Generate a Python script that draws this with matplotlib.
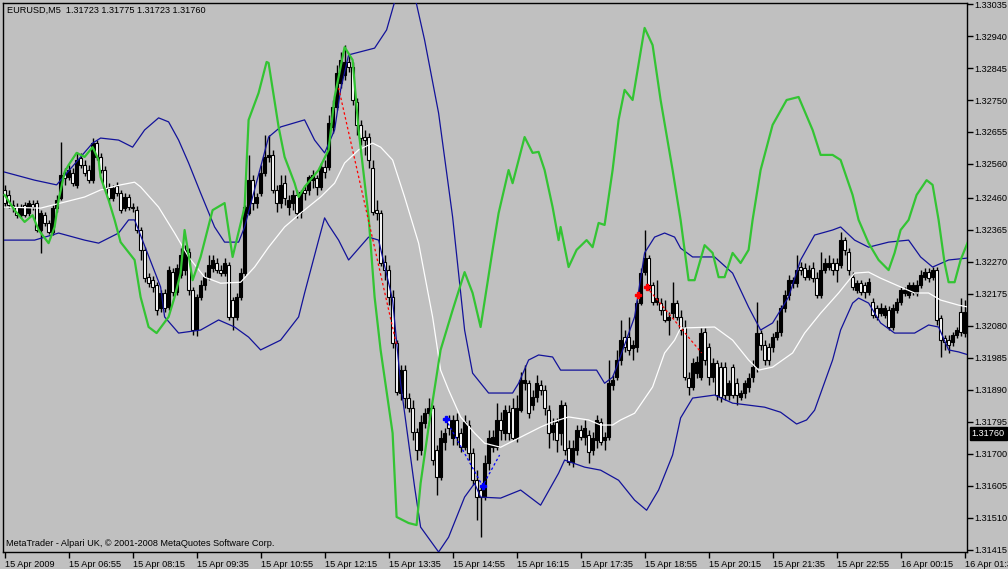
import numpy as np
import matplotlib
matplotlib.use("Agg")
import matplotlib.pyplot as plt

plt.rcParams['font.family'] = ['Liberation Sans', 'DejaVu Sans']

# EURUSD M5 candles, prices in points (1e-5)
opens = [132483, 132468, 132438, 132432, 132408, 132438, 132414, 132441, 132444, 132364,
         132408, 132385, 132358, 132429, 132459, 132533, 132521, 132533, 132498, 132578,
         132557, 132542, 132512, 132622, 132581, 132542, 132489, 132459, 132495, 132474,
         132429, 132462, 132432, 132423, 132364, 132305, 132224, 132215, 132201, 132132,
         132177, 132135, 132239, 132180, 132230, 132245, 132299, 132186, 132067, 132165,
         132201, 132224, 132251, 132266, 132245, 132236, 132260, 132156, 132106, 132165,
         132236, 132414, 132512, 132444, 132474, 132533, 132581, 132587, 132483, 132444,
         132503, 132432, 132444, 132468, 132417, 132483, 132483, 132512, 132518, 132492,
         132551, 132551, 132670, 132729, 132800, 132824, 132863, 132848, 132744, 132676,
         132640, 132640, 132548, 132423, 132414, 132269, 132245, 132165, 132028, 131880,
         131948, 131865, 131835, 131764, 131711, 131791, 131820, 131835, 131711, 131630,
         131734, 131800, 131746, 131800, 131761, 131719, 131785, 131702, 131621, 131592,
         131571, 131672, 131719, 131719, 131800, 131761, 131823, 131835, 131746, 131829,
         131909, 131909, 131844, 131868, 131904, 131889, 131829, 131764, 131794, 131761,
         131844, 131716, 131675, 131711, 131770, 131749, 131755, 131711, 131740, 131794,
         131740, 131749, 131904, 131927, 131978, 132046, 132046, 132013, 132016, 132147,
         132239, 132281, 132201, 132150, 132147, 132126, 132097, 132117, 132147, 132106,
         132076, 131924, 131898, 131939, 131927, 132061, 132016, 131927, 131969, 131957,
         131957, 131874, 131957, 131909, 131868, 131880, 131898, 131927, 131957, 132058,
         132022, 132016, 132016, 132046, 132061, 132132, 132171, 132206, 132206, 132254,
         132251, 132224, 132251, 132221, 132171, 132245, 132254, 132266, 132266, 132260,
         132334, 132299, 132224, 132186, 132206, 132201, 132180, 132150, 132132, 132117,
         132111, 132126, 132076, 132126, 132150, 132177, 132171, 132180, 132177, 132201,
         132224, 132239, 132224, 132245, 132103, 132043, 132037, 132031, 132052, 132120,
         132058]
highs = [132498, 132483, 132453, 132444, 132441, 132447, 132453, 132453, 132453, 132423,
         132417, 132394, 132438, 132468, 132625, 132548, 132557, 132548, 132596, 132593,
         132572, 132557, 132637, 132631, 132593, 132554, 132503, 132498, 132506, 132483,
         132474, 132471, 132444, 132435, 132373, 132313, 132236, 132227, 132209, 132186,
         132189, 132257, 132251, 132263, 132310, 132319, 132310, 132195, 132174, 132215,
         132239, 132290, 132290, 132281, 132260, 132281, 132269, 132165, 132177, 132251,
         132438, 132587, 132527, 132474, 132557, 132646, 132646, 132602, 132498, 132527,
         132527, 132468, 132483, 132483, 132483, 132498, 132527, 132542, 132527, 132563,
         132572, 132705, 132750, 132854, 132893, 132913, 132884, 132863, 132756, 132691,
         132661, 132652, 132572, 132453, 132423, 132290, 132260, 132186, 132037, 131963,
         131963, 131880, 131859, 131776, 131814, 131835, 131865, 131844, 131725, 131770,
         131776, 131814, 131814, 131820, 131776, 131814, 131800, 131716, 131651, 131607,
         131696, 131770, 131770, 131850, 131823, 131844, 131844, 131865, 131874, 131942,
         131963, 131918, 131889, 131933, 131918, 131904, 131844, 131806, 131806, 131859,
         131853, 131740, 131740, 131785, 131785, 131800, 131770, 131764, 131814, 131806,
         131764, 131978, 131933, 132008, 132097, 132067, 132106, 132037, 132156, 132251,
         132364, 132290, 132209, 132215, 132162, 132156, 132120, 132209, 132156, 132126,
         132097, 131942, 131984, 131990, 132073, 132073, 132028, 131984, 131978, 131972,
         131972, 131918, 131966, 131924, 131889, 131918, 131939, 131978, 132150, 132067,
         132037, 132028, 132058, 132097, 132141, 132186, 132230, 132224, 132290, 132269,
         132266, 132260, 132269, 132239, 132299, 132281, 132290, 132281, 132281, 132358,
         132343, 132310, 132239, 132215, 132215, 132209, 132221, 132162, 132141, 132147,
         132141, 132138, 132144, 132162, 132195, 132195, 132209, 132209, 132215, 132245,
         132251, 132251, 132254, 132254, 132111, 132052, 132052, 132061, 132076, 132162,
         132156]
lows = [132432, 132429, 132417, 132400, 132400, 132403, 132405, 132423, 132358, 132296,
        132376, 132352, 132349, 132417, 132453, 132498, 132512, 132495, 132489, 132548,
        132524, 132503, 132503, 132572, 132533, 132483, 132450, 132450, 132465, 132414,
        132420, 132423, 132417, 132355, 132275, 132209, 132195, 132180, 132111, 132120,
        132120, 132126, 132168, 132171, 132221, 132230, 132171, 132052, 132049, 132156,
        132186, 132215, 132239, 132236, 132227, 132227, 132097, 132067, 132097, 132156,
        132227, 132408, 132423, 132429, 132465, 132524, 132566, 132474, 132417, 132429,
        132438, 132408, 132423, 132400, 132400, 132453, 132468, 132489, 132468, 132483,
        132518, 132542, 132652, 132720, 132786, 132809, 132833, 132735, 132646, 132616,
        132587, 132548, 132408, 132394, 132257, 132215, 132141, 132013, 131874, 131859,
        131835, 131823, 131740, 131681, 131696, 131776, 131806, 131666, 131577, 131621,
        131711, 131755, 131725, 131725, 131705, 131711, 131681, 131607, 131503, 131452,
        131562, 131651, 131705, 131711, 131740, 131740, 131740, 131740, 131734, 131823,
        131889, 131806, 131829, 131853, 131874, 131814, 131716, 131740, 131705, 131725,
        131696, 131666, 131660, 131696, 131740, 131725, 131672, 131696, 131716, 131725,
        131711, 131740, 131889, 131918, 131963, 132002, 131993, 131978, 132002, 132141,
        132230, 132186, 132141, 132141, 132111, 132091, 132052, 132103, 132097, 132052,
        131918, 131874, 131889, 131924, 131918, 131963, 131904, 131912, 131859, 131853,
        131859, 131859, 131865, 131844, 131859, 131865, 131883, 131912, 131942, 132008,
        131963, 131963, 132002, 132037, 132049, 132120, 132156, 132192, 132195, 132230,
        132215, 132215, 132209, 132162, 132162, 132236, 132245, 132230, 132209, 132251,
        132290, 132230, 132186, 132177, 132171, 132162, 132171, 132103, 132097, 132108,
        132103, 132067, 132067, 132117, 132141, 132168, 132162, 132171, 132168, 132192,
        132215, 132209, 132215, 132082, 131987, 132008, 131999, 132019, 132043, 132049,
        132046]
closes = [132444, 132438, 132432, 132408, 132432, 132408, 132444, 132432, 132364, 132414,
          132385, 132358, 132429, 132453, 132527, 132518, 132542, 132503, 132572, 132557,
          132533, 132512, 132622, 132581, 132542, 132489, 132459, 132489, 132474, 132423,
          132462, 132432, 132429, 132364, 132305, 132221, 132206, 132195, 132126, 132177,
          132132, 132245, 132180, 132251, 132290, 132305, 132186, 132067, 132165, 132201,
          132224, 132260, 132275, 132245, 132236, 132266, 132106, 132106, 132165, 132236,
          132432, 132512, 132444, 132462, 132533, 132581, 132587, 132483, 132444, 132498,
          132459, 132453, 132468, 132414, 132477, 132474, 132521, 132527, 132492, 132551,
          132536, 132682, 132729, 132830, 132869, 132863, 132848, 132750, 132676, 132637,
          132631, 132572, 132417, 132414, 132266, 132245, 132165, 132028, 131883, 131948,
          131865, 131835, 131764, 131711, 131794, 131820, 131835, 131681, 131630, 131746,
          131761, 131776, 131800, 131749, 131719, 131794, 131702, 131621, 131571, 131571,
          131672, 131746, 131749, 131800, 131770, 131829, 131761, 131746, 131835, 131918,
          131918, 131820, 131868, 131909, 131889, 131835, 131761, 131785, 131740, 131844,
          131711, 131675, 131716, 131770, 131749, 131776, 131705, 131746, 131800, 131734,
          131749, 131909, 131918, 131978, 132037, 132016, 132008, 132022, 132147, 132236,
          132281, 132201, 132150, 132162, 132126, 132097, 132106, 132147, 132106, 132067,
          131927, 131898, 131969, 131972, 132058, 131978, 131927, 131969, 131874, 131868,
          131874, 131909, 131874, 131874, 131880, 131909, 131924, 131957, 132058, 132022,
          131978, 131978, 132046, 132061, 132132, 132171, 132215, 132215, 132245, 132245,
          132224, 132245, 132221, 132171, 132245, 132266, 132266, 132245, 132245, 132334,
          132305, 132245, 132195, 132206, 132180, 132180, 132209, 132111, 132106, 132132,
          132132, 132076, 132132, 132150, 132186, 132186, 132201, 132201, 132201, 132230,
          132239, 132221, 132245, 132097, 132037, 132031, 132022, 132052, 132067, 132061,
          132120]

# Bollinger bands (bar index, price points)
upper_idx = [0, 7.5, 13, 22, 24, 28.5, 32, 35, 38.5, 41, 43.5, 46, 49, 52.5, 55, 58.5, 60, 66, 69, 75,
             77.5, 80, 82.5, 84, 86, 92.5, 95.5, 100.5, 105, 108.5, 112, 115, 117, 121, 127, 128.5,
             131, 133.5, 137, 139, 145, 148, 150, 152, 153, 157.5, 160, 162.5, 165, 167.5, 169,
             172, 177.5, 182, 186, 189, 192, 196, 199, 202.5, 207, 209, 212.5, 216, 221, 226, 229,
             232, 236, 241]
upper_val = [132536, 132512, 132498, 132622, 132637, 132631, 132610, 132661, 132697, 132685, 132631,
             132563, 132474, 132373, 132328, 132328, 132373, 132640, 132670, 132691, 132631, 132593,
             132661, 132780, 132884, 132904, 132958, 133166, 132928, 132711, 132403, 132067, 131939,
             131880, 131880, 131909, 131978, 131993, 131987, 131948, 131948, 131948, 131909, 131927,
             131957, 132106, 132296, 132343, 132355, 132343, 132310, 132284, 132284, 132236, 132135,
             132067, 132088, 132165, 132275, 132349, 132364, 132373, 132334, 132313, 132328, 132334,
             132284, 132254, 132275, 132281]
lower_idx = [0, 7.5, 13.5, 20, 23.5, 28.5, 31, 32.5, 39, 40, 43.5, 49, 53.5, 57.5, 61, 64, 69, 73.5,
             75, 78.5, 80, 81, 83.5, 86, 91, 93.5, 97, 99, 102.5, 104, 108.5, 111, 115, 117.5, 119,
             124, 129, 134, 138.5, 140, 145, 149, 153.5, 157.5, 160.5, 163.5, 167, 169, 172, 177.5,
             182, 190, 194, 198, 200.5, 202.5, 207, 209, 212, 213.5, 216, 219, 222.5, 227.5, 231,
             233.5, 236, 238.5, 241]
lower_val = [132334, 132334, 132355, 132334, 132325, 132355, 132394, 132394, 132195, 132106, 132058,
             132067, 132097, 132076, 132046, 132008, 132037, 132106, 132177, 132334, 132400, 132379,
             132334, 132275, 132343, 132334, 132156, 131909, 131601, 131482, 131408, 131452, 131571,
             131612, 131571, 131568, 131592, 131547, 131642, 131681, 131660, 131651, 131621, 131562,
             131532, 131592, 131696, 131806, 131865, 131874, 131850, 131838, 131823, 131788, 131800,
             131829, 131978, 132067, 132147, 132162, 132147, 132088, 132058, 132058, 132082, 132076,
             132008, 132002, 131993]
mid_idx = [0, 9, 14, 20, 24, 29, 32.5, 34, 38.5, 42.5, 46, 50, 54, 59, 62.5, 66, 70, 74, 79, 82.5,
           85, 88.5, 92, 94, 97, 100, 103.5, 107, 109, 111, 114, 117.5, 120, 124, 129, 134, 137,
           141, 146, 149, 152, 154, 157.5, 162, 165, 167.5, 169, 177.5, 182, 186, 188.5, 192, 197,
           200, 204, 208.5, 212.5, 216, 219, 224, 227.5, 231, 234, 238.5, 241]
mid_val = [132432, 132429, 132444, 132462, 132483, 132498, 132506, 132492, 132432, 132355, 132284,
           132224, 132206, 132209, 132254, 132313, 132373, 132414, 132462, 132503, 132563, 132602,
           132622, 132610, 132572, 132462, 132325, 132106, 131948, 131889, 131809, 131761, 131731,
           131719, 131749, 131779, 131794, 131809, 131800, 131785, 131785, 131800, 131820, 131898,
           131999, 132037, 132073, 132076, 132037, 131978, 131948, 131957, 131999, 132058, 132117,
           132177, 132236, 132239, 132221, 132195, 132177, 132177, 132156, 132141, 132135]

# green indicator line
green_idx = [0, 2.5, 5, 7, 8.5, 11, 12.5, 13.5, 15, 16, 18, 20, 22, 23.5, 24, 26, 27.5, 29, 32.5,
             34, 36, 38, 41, 42.5, 44, 45, 47, 49, 52, 55, 57, 60, 61, 63.5, 65.5, 66, 68.5, 70,
             72.5, 73.5, 75, 78.5, 81, 82.5, 84, 85, 87, 88.5, 91, 92.5, 94, 97, 98, 101, 103,
             104, 106, 109, 112, 115, 117, 119, 122, 123.5, 126, 127, 130, 132, 133.5, 135, 137,
             138.5, 139, 141, 143, 145.5, 147, 148.5, 150, 152, 153.5, 155, 157, 160, 162, 164,
             167, 169, 171, 172.5, 175, 177, 178.5, 180, 182, 184, 186, 187, 189, 192, 195.5,
             198.5, 202, 204, 207, 209, 212, 213.5, 216, 218.5, 221, 222.5, 224, 226, 228, 230.5,
             232, 233.5, 235, 236, 237.5, 239, 241]
green_val = [132468, 132423, 132388, 132408, 132364, 132325, 132373, 132453, 132536, 132557, 132593,
             132581, 132610, 132572, 132521, 132453, 132394, 132328, 132275, 132165, 132076, 132058,
             132106, 132165, 132236, 132364, 132215, 132284, 132423, 132444, 132284, 132432, 132691,
             132771, 132863, 132860, 132670, 132581, 132503, 132462, 132492, 132542, 132602, 132759,
             132848, 132907, 132869, 132661, 132403, 132165, 132008, 131761, 131512, 131494, 131488,
             131612, 131779, 132008, 132126, 132239, 132177, 132076, 132305, 132414, 132542, 132503,
             132640, 132593, 132596, 132542, 132432, 132334, 132373, 132254, 132305, 132334, 132313,
             132385, 132379, 132542, 132691, 132780, 132750, 132964, 132913, 132750, 132542, 132394,
             132215, 132215, 132319, 132296, 132224, 132224, 132296, 132266, 132305, 132394, 132542,
             132676, 132750, 132759, 132661, 132587, 132587, 132572, 132468, 132394, 132325, 132275,
             132245, 132296, 132364, 132394, 132468, 132512, 132498, 132394, 132266, 132209, 132209,
             132275, 132334]

# trade markers / zigzag segments
red_line_idx = [83.5, 98]
red_line_val = [132786, 132022]
red2_line_idx = [160.5, 174.25]
red2_line_val = [132195, 131999]
red_mark_idx = [158.25, 160.5]
red_mark_val = [132171, 132195]
blue_line_idx = [110.25, 119.5, 123.75]
blue_line_val = [131803, 131604, 131696]

ytick_vals = [1.33035, 1.32940, 1.32845, 1.32750, 1.32655, 1.32560, 1.32460, 1.32365, 1.32270,
              1.32175, 1.32080, 1.31985, 1.31890, 1.31795, 1.31700, 1.31605, 1.31510, 1.31415]
xtick_labels = ['15 Apr 2009', '15 Apr 06:55', '15 Apr 08:15', '15 Apr 09:35', '15 Apr 10:55',
                '15 Apr 12:15', '15 Apr 13:35', '15 Apr 14:55', '15 Apr 16:15', '15 Apr 17:35',
                '15 Apr 18:55', '15 Apr 20:15', '15 Apr 21:35', '15 Apr 22:55', '16 Apr 00:15',
                '16 Apr 01:35']
last_price = 1.31760
title = 'EURUSD,M5  1.31723 1.31775 1.31723 1.31760'
footer = 'MetaTrader - Alpari UK, \u00a9 2001-2008 MetaQuotes Software Corp.'

pt = 1e-5
o = np.array(opens) * pt
h = np.array(highs) * pt
l = np.array(lows) * pt
c = np.array(closes) * pt
x = np.arange(len(o))

bg = '#c0c0c0'
band_col = '#12129a'
fig = plt.figure(figsize=(10.08, 5.69), dpi=100, facecolor=bg)
ax = fig.add_axes([3 / 1008, 17 / 569, 964 / 1008, 549 / 569])
ax.set_facecolor(bg)

# candles: up bars black, down bars white
ax.vlines(x, l, h, color='black', lw=1, zorder=2)
up = c >= o
body_col = np.where(up, 'black', 'white')
ax.bar(x, np.abs(c - o), bottom=np.minimum(o, c), width=0.7, color=body_col,
       edgecolor='black', lw=0.8, zorder=3)

ax.plot(mid_idx, np.array(mid_val) * pt, color='white', lw=0.9, zorder=4)
ax.plot(upper_idx, np.array(upper_val) * pt, color=band_col, lw=0.9, zorder=4)
ax.plot(lower_idx, np.array(lower_val) * pt, color=band_col, lw=0.9, zorder=4)
ax.plot(green_idx, np.array(green_val) * pt, color='#33c433', lw=1.6, zorder=5)

ax.plot(red_line_idx, np.array(red_line_val) * pt, color='red', lw=0.9, ls=(0, (2, 2)), zorder=6)
ax.plot(red2_line_idx, np.array(red2_line_val) * pt, color='red', lw=0.9, ls=(0, (2, 2)), zorder=6)
ax.plot(blue_line_idx, np.array(blue_line_val) * pt, color='blue', lw=0.9, ls=(0, (2, 2)), zorder=6)
ax.plot(red_mark_idx, np.array(red_mark_val) * pt, ls='none', marker='P', ms=5, color='red', zorder=7)
ax.plot(blue_line_idx[:2], np.array(blue_line_val[:2]) * pt, ls='none', marker='P', ms=5,
        color='blue', zorder=7)

ax.set_xlim(-0.4, 240.6)
ax.set_ylim(1.31408, 1.33038)

for s in ax.spines.values():
    s.set_color('black')
    s.set_linewidth(1)

ax.yaxis.tick_right()
ax.set_yticks(ytick_vals)
ax.set_yticklabels(['%.5f' % v for v in ytick_vals])
ax.set_xticks(np.arange(0, 241, 16))
ax.set_xticklabels(xtick_labels)
for lab in ax.get_xticklabels():
    lab.set_horizontalalignment('left')
ax.tick_params(axis='both', direction='out', length=4, width=1, color='black',
               labelsize=6.6, labelcolor='black', pad=1.5)

ax.text(1.005, last_price, '%.5f' % last_price, transform=ax.get_yaxis_transform(),
        color='white', fontsize=6.6, va='center', ha='left',
        bbox=dict(facecolor='black', edgecolor='black', pad=1.2), clip_on=False, zorder=10)

fig.text(7 / 1008, 1 - 10 / 569, title, fontsize=6.6, va='center', ha='left')
fig.text(6 / 1008, 1 - 544 / 569, footer, fontsize=6.6, va='center', ha='left')

fig.savefig('out.png', dpi=100, facecolor=bg)
